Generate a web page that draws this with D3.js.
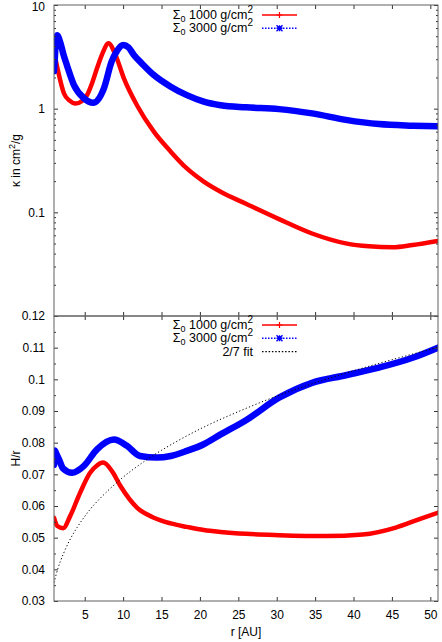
<!DOCTYPE html>
<html><head><meta charset="utf-8">
<script src="https://cdn.jsdelivr.net/npm/d3@7"></script>
<style>body{margin:0;background:#fff}svg{display:block}text{font-family:"Liberation Sans",Arial,sans-serif}</style>
</head><body>
<svg id="c" width="442" height="642"></svg>
<script>
// ---- data ----
const rKappa1 = [1.0,1.5,2.3,3.0,3.8,4.6,5.3,6.0,6.6,7.3,8.1,9.0,10.1,11.8,14.0,16.2,18.3,20.5,22.7,26.0,30.3,34.6,39.0,42.0,45.1,47.7,51.0];
const kappa1  = [3.55,2.36,1.4,1.2,1.12,1.18,1.35,1.8,2.45,3.4,4.27,3.3,1.96,1.08,0.60,0.385,0.265,0.198,0.158,0.121,0.086,0.0625,0.0502,0.047,0.046,0.0484,0.053];
const rKappa2 = [1.0,1.1,1.25,1.4,1.8,2.2,2.7,3.6,4.9,6.1,7.5,8.5,9.2,10.0,10.7,11.4,12.5,14.0,16.2,18.3,20.5,22.7,26.0,30.3,34.6,39.0,43.3,47.7,51.0];
const kappa2  = [2.3,3.0,4.6,5.1,4.4,3.4,2.6,1.69,1.26,1.14,1.57,2.84,3.6,4.11,3.9,3.3,2.7,2.11,1.63,1.35,1.17,1.08,1.03,0.99,0.90,0.78,0.71,0.686,0.676];
const rH1 = [1.0,1.43,2.2,3.1,4.4,5.7,6.6,7.4,8.55,9.65,11.8,14.0,16.2,18.3,20.5,22.7,26.0,30.3,36.4,41.2,45.5,48.5,51.0];
const H1  = [0.0563,0.0537,0.053,0.0568,0.0642,0.0705,0.0728,0.0737,0.071,0.0663,0.0595,0.0563,0.0545,0.0534,0.0524,0.0518,0.0512,0.0508,0.0505,0.051,0.0532,0.0558,0.0579];
const rH2 = [1.0,1.1,1.3,1.65,2.2,3.35,4.87,6.6,8.8,10.5,12.2,14.4,16.2,18.3,20.5,22.7,26.0,30.3,34.6,39.0,43.3,47.7,51.0];
const H2  = [0.073,0.0775,0.0765,0.0747,0.0718,0.0705,0.0726,0.0779,0.081,0.079,0.0758,0.0753,0.0758,0.0774,0.0795,0.0826,0.0871,0.0942,0.0989,0.1013,0.1037,0.1068,0.110];
const rFit = [1,1.5,2,3,4,5,6,8,10,12,15,20,25,30,35,40,45,51];
const hFit = [0.0358,0.0402,0.0436,0.049,0.0532,0.0567,0.0598,0.0648,0.0691,0.0728,0.0776,0.0843,0.0898,0.0947,0.0989,0.1027,0.1062,0.1101];

const xTicks = [5,10,15,20,25,30,35,40,45,50];
const kappaTicks = [0.1,1,10];
const kappaTickLabels = ["0.1","1","10"];
const kappaMinor = [0.02,0.03,0.04,0.05,0.06,0.07,0.08,0.09,0.2,0.3,0.4,0.5,0.6,0.7,0.8,0.9,2,3,4,5,6,7,8,9];
const hTicks = [0.03,0.04,0.05,0.06,0.07,0.08,0.09,0.1,0.11,0.12];
const hTickLabels = ["0.03","0.04","0.05","0.06","0.07","0.08","0.09","0.1","0.11","0.12"];
const hMinor = [0.035,0.045,0.055,0.065,0.075,0.085,0.095,0.105,0.115];
const seriesNames = ["1000","3000"];
const colors = ["#ff0000","#0000ff"];

// ---- layout ----
const L = 54, R = 438, T1 = 5, B1 = 316, T2 = 316, B2 = 601;
const svg = d3.select("#c");
const x = d3.scaleLinear().domain([1,51]).range([L,R]);
const yK = d3.scaleLog().domain([0.01,10]).range([B1,T1]);
const yH = d3.scaleLinear().domain([0.03,0.12]).range([B2,T2]);

const defs = svg.append("defs");
defs.append("clipPath").attr("id","clip1").append("rect").attr("x",L).attr("y",T1).attr("width",R-L).attr("height",B1-T1);
defs.append("clipPath").attr("id","clip2").append("rect").attr("x",L).attr("y",T2).attr("width",R-L).attr("height",B2-T2);

function line(xs, ys, yScale){
  return d3.line().x((d,i)=>x(xs[i])).y((d,i)=>yScale(ys[i])).curve(d3.curveMonotoneX)(ys);
}

// ---- data curves ----
const g1 = svg.append("g").attr("clip-path","url(#clip1)");
g1.append("path").attr("d",line(rKappa1,kappa1,yK)).attr("fill","none").attr("stroke",colors[0]).attr("stroke-width",4.5).attr("stroke-linejoin","round").attr("stroke-linecap","round");
g1.append("path").attr("d",line(rKappa2,kappa2,yK)).attr("fill","none").attr("stroke",colors[1]).attr("stroke-width",6.5).attr("stroke-linejoin","round").attr("stroke-linecap","round");

const g2 = svg.append("g").attr("clip-path","url(#clip2)");
g2.append("path").attr("d",line(rH1,H1,yH)).attr("fill","none").attr("stroke",colors[0]).attr("stroke-width",4.5).attr("stroke-linejoin","round").attr("stroke-linecap","round");
g2.append("path").attr("d",line(rH2,H2,yH)).attr("fill","none").attr("stroke",colors[1]).attr("stroke-width",6.5).attr("stroke-linejoin","round").attr("stroke-linecap","round");
g2.append("path").attr("d",d3.line().x((d,i)=>x(rFit[i])).y((d,i)=>yH(hFit[i])).curve(d3.curveCatmullRom)(hFit))
  .attr("fill","none").attr("stroke","#000").attr("stroke-width",1).attr("stroke-dasharray","1.2,2.3");

// ---- axes ----
function styleAxis(g){
  g.select(".domain").remove();
  g.selectAll(".tick line").attr("stroke","#333");
  g.selectAll("text").attr("font-size",12).attr("fill","#000").attr("font-family","Liberation Sans, Arial, sans-serif");
}
// top panel
svg.append("g").attr("transform",`translate(${L},0)`).call(d3.axisLeft(yK).tickValues(kappaTicks).tickFormat((d,i)=>kappaTickLabels[i]).tickSize(-4).tickPadding(9)).call(styleAxis)
  .selectAll("text").filter(d=>d===10).attr("dy","0.45em");
svg.append("g").attr("transform",`translate(${L},0)`).call(d3.axisLeft(yK).tickValues(kappaMinor).tickFormat("").tickSize(-2)).call(styleAxis);
svg.append("g").attr("transform",`translate(${R},0)`).call(d3.axisRight(yK).tickValues(kappaTicks).tickFormat("").tickSize(-4)).call(styleAxis);
svg.append("g").attr("transform",`translate(${R},0)`).call(d3.axisRight(yK).tickValues(kappaMinor).tickFormat("").tickSize(-2)).call(styleAxis);
svg.append("g").attr("transform",`translate(0,${T1})`).call(d3.axisTop(x).tickValues(xTicks).tickFormat("").tickSize(-4)).call(styleAxis);
svg.append("g").attr("transform",`translate(0,${B1})`).call(d3.axisBottom(x).tickValues(xTicks).tickFormat("").tickSize(-4)).call(styleAxis);
// bottom panel
svg.append("g").attr("transform",`translate(${L},0)`).call(d3.axisLeft(yH).tickValues(hTicks).tickFormat((d,i)=>hTickLabels[i]).tickSize(-4).tickPadding(9)).call(styleAxis);
svg.append("g").attr("transform",`translate(${L},0)`).call(d3.axisLeft(yH).tickValues(hMinor).tickFormat("").tickSize(-2)).call(styleAxis);
svg.append("g").attr("transform",`translate(${R},0)`).call(d3.axisRight(yH).tickValues(hTicks).tickFormat("").tickSize(-4)).call(styleAxis);
svg.append("g").attr("transform",`translate(${R},0)`).call(d3.axisRight(yH).tickValues(hMinor).tickFormat("").tickSize(-2)).call(styleAxis);
svg.append("g").attr("transform",`translate(0,${T2})`).call(d3.axisTop(x).tickValues(xTicks).tickFormat("").tickSize(-4)).call(styleAxis);
svg.append("g").attr("transform",`translate(0,${B2})`).call(d3.axisBottom(x).tickValues(xTicks).tickFormat(d=>d).tickSize(-4).tickPadding(9)).call(styleAxis);

// frames
svg.append("rect").attr("x",L).attr("y",T1).attr("width",R-L).attr("height",B1-T1).attr("fill","none").attr("stroke","#606060").attr("stroke-width",1);
svg.append("rect").attr("x",L).attr("y",T2).attr("width",R-L).attr("height",B2-T2).attr("fill","none").attr("stroke","#606060").attr("stroke-width",1);

// axis titles
const yl1 = svg.append("text").attr("transform",`translate(20,${(T1+B1)/2}) rotate(-90)`).attr("text-anchor","middle").attr("font-size",12);
yl1.append("tspan").text("κ in cm");
yl1.append("tspan").attr("dy",-5).attr("font-size",9).text("2");
yl1.append("tspan").attr("dy",5).text("/g");
svg.append("text").attr("transform",`translate(20,${(T2+B2)/2}) rotate(-90)`).attr("text-anchor","middle").attr("font-size",12).text("H/r");
svg.append("text").attr("x",(L+R)/2).attr("y",636).attr("text-anchor","middle").attr("font-size",12).text("r [AU]");

// ---- legends ----
function legendSigma(y, name){
  const t = svg.append("text").attr("x",253).attr("y",y).attr("text-anchor","end").attr("font-size",12.5);
  t.append("tspan").text("Σ");
  t.append("tspan").attr("dy",3).attr("font-size",9).text("0");
  t.append("tspan").attr("dy",-3).text(" " + name + " g/cm");
  t.append("tspan").attr("dy",-6).attr("font-size",10).text("2");
}
function plus(g, cx, cy, s, c){
  g.append("path").attr("d",`M${cx-s},${cy}H${cx+s}M${cx},${cy-s}V${cy+s}`).attr("stroke",c).attr("stroke-width",1.2);
}
function star(g, cx, cy, s, c){
  g.append("path").attr("d",`M${cx-s},${cy}H${cx+s}M${cx},${cy-s}V${cy+s}M${cx-s},${cy-s}L${cx+s},${cy+s}M${cx-s},${cy+s}L${cx+s},${cy-s}`).attr("stroke",c).attr("stroke-width",1.4);
}
function legendBlock(y0, withFit){
  const lg = svg.append("g");
  legendSigma(y0+4, seriesNames[0]);
  lg.append("line").attr("x1",262).attr("x2",297).attr("y1",y0).attr("y2",y0).attr("stroke",colors[0]).attr("stroke-width",1.5);
  plus(lg,279.5,y0,3,colors[0]);
  legendSigma(y0+17.3, seriesNames[1]);
  lg.append("line").attr("x1",262).attr("x2",297).attr("y1",y0+13.3).attr("y2",y0+13.3).attr("stroke",colors[1]).attr("stroke-width",1.5).attr("stroke-dasharray","1.5,1.5");
  star(lg,279.5,y0+13.3,3,colors[1]);
  if(withFit){
    svg.append("text").attr("x",253).attr("y",y0+31).attr("text-anchor","end").attr("font-size",12.5).text("2/7 fit");
    lg.append("line").attr("x1",262).attr("x2",297).attr("y1",y0+26.7).attr("y2",y0+26.7).attr("stroke","#000").attr("stroke-width",1.2).attr("stroke-dasharray","1.5,1.8");
  }
}
legendBlock(15, false);
legendBlock(325, true);
</script>
</body></html>
